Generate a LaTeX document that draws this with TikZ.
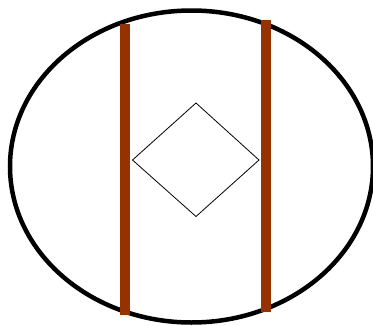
\documentclass[tikz,border=0pt]{standalone}
\usepackage{xcolor}
\usepackage{tikz}
\definecolor{mybrown}{RGB}{150,50,0}
\tikzset{
  rim/.style={draw=black, line width=4.5pt},
  bar/.style={draw=mybrown, line width=10pt},
  gem/.style={draw=black, line width=0.8pt, line join=miter}
}
\begin{document}
\begin{tikzpicture}[x=1pt, y=-1pt]
  \useasboundingbox (0,0) rectangle (373,325);
  % outer ring
  \draw[rim] (191.5,166.5) ellipse (181.5 and 156);
  % the two bars
  \draw[bar] (125,24) -- (125,315);
  \draw[bar] (265.5,20) -- (265.5,312);
  % diamond in the middle
  \draw[gem] (132.5,160) -- (196,103) -- (259,160) -- (196,216.5) -- cycle;
\end{tikzpicture}
\end{document}
